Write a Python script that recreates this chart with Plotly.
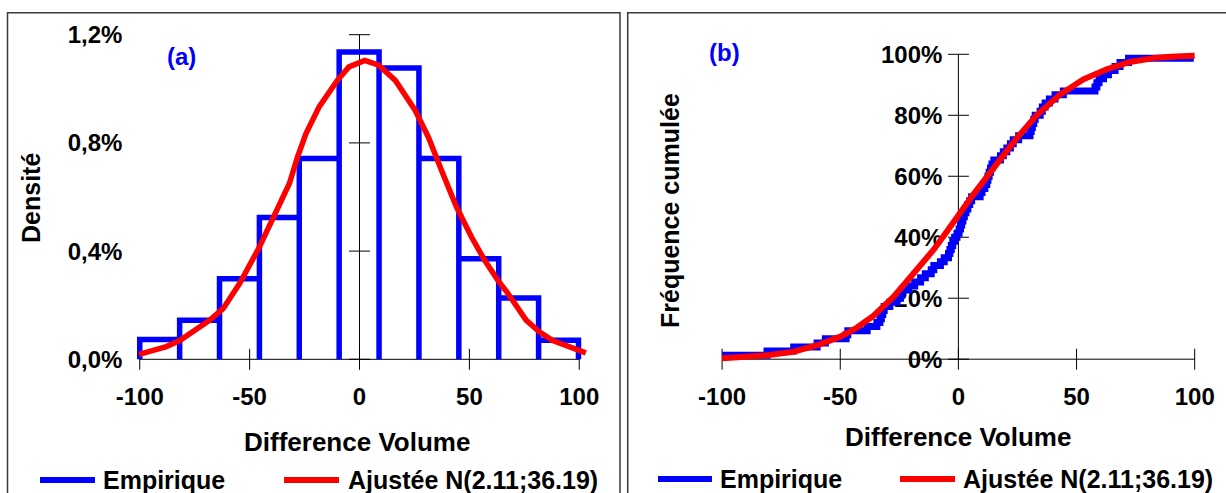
import plotly.graph_objects as go

W, H = 1226, 493

# ---------------- data: panel (a) histogram + fitted density (values in %) ----------------
bin_edges = [-100, -81.85, -63.7, -45.55, -27.4, -9.25, 8.9, 27.05, 45.2, 63.35, 81.5, 99.65]
bin_density = [0.073, 0.144, 0.298, 0.524, 0.742, 1.136, 1.077, 0.742, 0.372, 0.227, 0.070]

fit_x = [-100.3, -94, -87.9, -81.8, -75.8, -71.2, -68.1, -62.0, -54.5, -45.5, -38.0, -31.9,
         -28.2, -24.4, -18.4, -10.1, -4.8, 2.4, 8.7, 16.3, 25.3, 31.3, 37.3, 44.1, 50.9,
         56.9, 62.9, 67.5, 75.8, 81.8, 87.9, 95.5, 103]
fit_density = [0.0185, 0.032, 0.047, 0.069, 0.102, 0.130, 0.145, 0.188, 0.281, 0.416, 0.545, 0.650,
               0.748, 0.834, 0.933, 1.031, 1.081, 1.105, 1.087, 1.031, 0.921, 0.822, 0.699, 0.564, 0.453,
               0.367, 0.293, 0.244, 0.145, 0.102, 0.069, 0.047, 0.024]

# ---------------- data: panel (b) empirical and fitted cumulative frequency (%) ----------------
emp_x = [-100, -81, -69.7, -59.8, -56.3, -47.5, -46.8, -38.6, -34.5, -33.2, -32.6, -32.0, -31.4,
         -29.0, -26.0, -24.5, -24.0, -21.0, -18.5, -16.0, -14.0, -11.5, -10.4, -7.6, -6.0, -4.2,
         -3.6, -3.0, -2.4, -1.6, -0.6, 0.3, 0.9, 1.4, 1.9, 2.5, 3.2, 4.0, 4.8, 5.6, 9.2, 10.0,
         11.2, 12.0, 12.5, 13.0, 13.6, 14.2, 15.0, 17.8, 19.0, 20.5, 22.0, 23.2, 25.5, 30.3,
         30.8, 31.3, 31.9, 32.5, 34.6, 35.5, 36.7, 38.5, 40.9, 44.4, 57.8, 58.6, 59.5, 61.4,
         63.5, 66.3, 68.4, 72.0, 99.6]
emp_cum = [1.3, 2.7, 4.0, 5.3, 6.7, 8.0, 9.3, 10.7, 12.0, 13.3, 14.7, 16.0, 17.3,
           18.7, 20.0, 21.3, 22.7, 24.0, 25.3, 26.7, 28.0, 29.3, 30.7, 32.0, 33.3, 34.7,
           36.0, 37.3, 38.7, 40.0, 41.3, 42.7, 44.0, 45.3, 46.7, 48.0, 49.3, 50.7, 52.0, 53.3, 54.7, 56.0,
           57.3, 58.7, 60.0, 61.3, 62.7, 64.0, 65.3, 66.7, 68.0, 69.3, 70.7, 72.0, 73.3, 74.7,
           76.0, 77.3, 78.7, 80.0, 81.3, 82.7, 84.0, 85.3, 86.7, 88.0, 89.3, 90.7, 92.0, 93.3,
           94.7, 96.0, 97.3, 98.7, 98.7]

fit_cdf_x = [-100, -90, -81, -70, -60, -50, -43, -36, -27.4, -19, -10.4, -4.8, 0, 6.3, 16.2,
             24.7, 33.1, 43, 52.9, 62.8, 72.6, 83.9, 92, 100]
fit_cdf = [0.3, 0.7, 1.3, 2.4, 4.5, 7.4, 10.3, 14.2, 20.5, 28.1, 36.0, 42.0, 47.4, 54.0, 64.0,
           72.5, 80.0, 86.8, 91.8, 95.1, 97.5, 98.9, 99.3, 99.5]

x_ticks = [-100, -50, 0, 50, 100]
x_ticktext = ["-100", "-50", "0", "50", "100"]
ya_ticks = [0, 0.4, 0.8, 1.2]
ya_ticktext = ["0,0%", "0,4%", "0,8%", "1,2%"]
yb_ticks = [0, 20, 40, 60, 80, 100]
yb_ticktext = ["0%", "20%", "40%", "60%", "80%", "100%"]

BLUE = "#0000FF"
RED = "#FF0000"
FONT = "Liberation Sans, Arial, sans-serif"

# ---------------- pixel geometry helpers ----------------
def xdom(a, b, r):
    return [(a + b * r[0]) / W, (a + b * r[1]) / W]

def ydom(c, d, r):
    return [1 - (c - d * r[0]) / H, 1 - (c - d * r[1]) / H]

A_X0, A_XS = 359.5, 2.1975      # panel a: pixel of x=0, px per unit
A_Y0, A_YS = 359.3, 270.5       # panel a: pixel of y=0, px per 1 %
B_X0, B_XS = 958.4, 2.363
B_Y0, B_YS = 359.2, 3.049

xa_range = [-102, 105]
ya_range = [-0.02, 1.215]
xb_range = [-103, 103]
yb_range = [-2, 102]

# histogram outline path built from edges and densities
hx, hy = [], []
for i, h in enumerate(bin_density):
    l, r = bin_edges[i], bin_edges[i + 1]
    hx += [l, l, r, r]
    hy += [0, h, h, 0]

fig = go.Figure()

# axis cross tick marks (decoration)
tick_marker_ns = dict(symbol="line-ns", size=15, line=dict(width=1, color="black"))
tick_marker_ew = dict(symbol="line-ew", size=15, line=dict(width=1, color="black"))
fig.add_trace(go.Scatter(x=x_ticks, y=[0] * len(x_ticks), mode="markers", xaxis="x", yaxis="y",
                         marker=tick_marker_ns, showlegend=False, hoverinfo="skip", cliponaxis=False))
fig.add_trace(go.Scatter(x=[0] * len(ya_ticks), y=ya_ticks, mode="markers", xaxis="x", yaxis="y",
                         marker=tick_marker_ew, showlegend=False, hoverinfo="skip", cliponaxis=False))
fig.add_trace(go.Scatter(x=x_ticks, y=[0] * len(x_ticks), mode="markers", xaxis="x2", yaxis="y2",
                         marker=tick_marker_ns, showlegend=False, hoverinfo="skip", cliponaxis=False))
fig.add_trace(go.Scatter(x=[0] * len(yb_ticks), y=yb_ticks, mode="markers", xaxis="x2", yaxis="y2",
                         marker=tick_marker_ew, showlegend=False, hoverinfo="skip", cliponaxis=False))

# panel a
fig.add_trace(go.Scatter(x=hx, y=hy, mode="lines", name="Empirique", xaxis="x", yaxis="y",
                         line=dict(color=BLUE, width=5.5), showlegend=False))
fig.add_trace(go.Scatter(x=fit_x, y=fit_density, mode="lines", name="Ajustée N(2.11;36.19)",
                         xaxis="x", yaxis="y", line=dict(color=RED, width=5.5), showlegend=False))
# panel b
fig.add_trace(go.Scatter(x=emp_x, y=emp_cum, mode="lines", name="Empirique", xaxis="x2", yaxis="y2",
                         line=dict(color=BLUE, width=7, shape="hv"), showlegend=False))
fig.add_trace(go.Scatter(x=fit_cdf_x, y=fit_cdf, mode="lines", name="Ajustée N(2.11;36.19)",
                         xaxis="x2", yaxis="y2", line=dict(color=RED, width=6), showlegend=False))

tickfont = dict(family=FONT, size=24, color="black", weight="bold")

shapes = []
# frames
shapes.append(dict(type="rect", xref="paper", yref="paper", x0=7.5 / W, x1=620 / W,
                   y0=1 - 520 / H, y1=1 - 12.7 / H, line=dict(color="#3a3a3a", width=1.5), layer="below"))
shapes.append(dict(type="rect", xref="paper", yref="paper", x0=627.7 / W, x1=1240 / W,
                   y0=1 - 520 / H, y1=1 - 12.7 / H, line=dict(color="#3a3a3a", width=1.5), layer="below"))
# axis lines
shapes.append(dict(type="line", xref="x", yref="y", x0=-100, x1=100, y0=0, y1=0,
                   line=dict(color="black", width=1), layer="below"))
shapes.append(dict(type="line", xref="x", yref="y", x0=0, x1=0, y0=0, y1=1.2,
                   line=dict(color="black", width=1), layer="below"))
shapes.append(dict(type="line", xref="x2", yref="y2", x0=-100, x1=100, y0=0, y1=0,
                   line=dict(color="black", width=1), layer="below"))
shapes.append(dict(type="line", xref="x2", yref="y2", x0=0, x1=0, y0=0, y1=100,
                   line=dict(color="black", width=1), layer="below"))

# legend samples
def leg_line(x0, x1, y, color):
    shapes.append(dict(type="line", xref="paper", yref="paper", x0=x0 / W, x1=x1 / W,
                       y0=1 - y / H, y1=1 - y / H, line=dict(color=color, width=6)))

leg_line(40, 95, 480, BLUE)
leg_line(284, 339, 480, RED)
leg_line(658, 712, 479, BLUE)
leg_line(900, 955, 479, RED)

annotations = []

def ann(text, x, y, size=24, color="black", xanchor="center", yanchor="middle", angle=0):
    annotations.append(dict(text=text, x=x / W, y=1 - y / H, xref="paper", yref="paper",
                            showarrow=False, xanchor=xanchor, yanchor=yanchor, textangle=angle,
                            font=dict(family=FONT, size=size, color=color, weight="bold")))

ann("(a)", 181, 57, color=BLUE)
ann("(b)", 724, 52, color=BLUE)
ann("Difference Volume", 357, 442, size=26)
ann("Difference Volume", 958, 437, size=26)
ann("Densité", 31, 198, size=25, angle=-90)
ann("Fréquence cumulée", 670, 211, size=25, angle=-90)
ann("Empirique", 101, 480, size=25, xanchor="left")
ann("Ajustée N(2.11;36.19)", 346, 480, size=25, xanchor="left")
ann("Empirique", 718, 479, size=25, xanchor="left")
ann("Ajustée N(2.11;36.19)", 961, 479, size=25, xanchor="left")

common_x = dict(showgrid=False, zeroline=False, showline=False, ticks="", automargin=False,
                tickvals=x_ticks, ticktext=x_ticktext, tickfont=tickfont, ticklabelstandoff=15)

fig.update_layout(
    width=W, height=H,
    margin=dict(l=0, r=0, t=0, b=0, pad=0, autoexpand=False),
    paper_bgcolor="white", plot_bgcolor="rgba(0,0,0,0)",
    showlegend=False,
    xaxis=dict(domain=xdom(A_X0, A_XS, xa_range), range=xa_range, anchor="y", **common_x),
    yaxis=dict(domain=ydom(A_Y0, A_YS, ya_range), range=ya_range, anchor="x", automargin=False,
               showgrid=False, zeroline=False, showline=False, ticks="",
               tickvals=ya_ticks, ticktext=ya_ticktext, tickfont=tickfont, ticklabelstandoff=12),
    xaxis2=dict(domain=xdom(B_X0, B_XS, xb_range), range=xb_range, anchor="y2", **common_x),
    yaxis2=dict(domain=ydom(B_Y0, B_YS, yb_range), range=yb_range, anchor="free", automargin=False,
                position=B_X0 / W, side="left", layer="below traces",
                showgrid=False, zeroline=False, showline=False, ticks="",
                tickvals=yb_ticks, ticktext=yb_ticktext, tickfont=tickfont, ticklabelstandoff=16),
    shapes=shapes,
    annotations=annotations,
)

fig.write_html("out.html", config={"displayModeBar": False},
               post_script="document.body.style.margin='0';")
